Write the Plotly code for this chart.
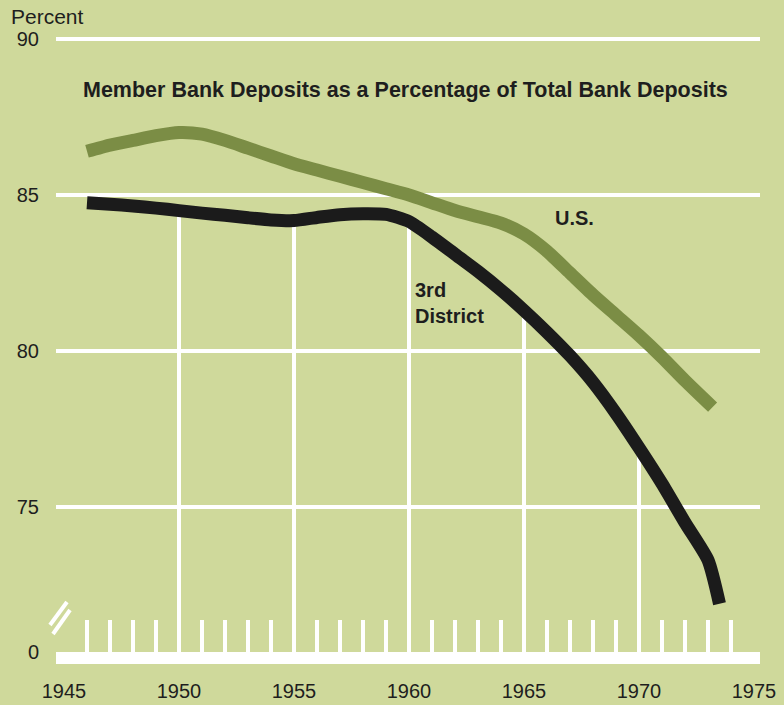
import plotly.graph_objects as go

# ---------------- data ----------------
years = list(range(1946, 1973)) + [1973.2]
us_pct = [86.4, 86.6, 86.75, 86.9, 87.0, 86.95, 86.75, 86.5, 86.25, 86.0,
          85.8, 85.6, 85.4, 85.2, 85.0, 84.75, 84.5, 84.3, 84.1, 83.75,
          83.2, 82.5, 81.8, 81.15, 80.5, 79.8, 79.05, 78.2]

years_3rd = list(range(1946, 1974)) + [1973.5]
third_pct = [84.75, 84.7, 84.65, 84.58, 84.5, 84.42, 84.35, 84.27, 84.2, 84.18,
             84.28, 84.37, 84.4, 84.38, 84.15, 83.65, 83.1, 82.55, 81.95, 81.3,
             80.6, 79.85, 79.0, 78.0, 76.9, 75.75, 74.5, 73.3, 71.9]

label_years = [1945, 1950, 1955, 1960, 1965, 1970, 1975]
minor_years = list(range(1946, 1975))
drop_years = [1950, 1955, 1960, 1965, 1970]
y_ticks = [75, 80, 85, 90]
y_break_value = 70.353  # broken-axis position that carries the "0" label
y_tick_text = ["0", "75", "80", "85", "90"]

title_text = "Member Bank Deposits as a Percentage of Total Bank Deposits"

# ---------------- style ----------------
BG = "#cfd99b"
GREEN = "#7b8d45"
BLACK = "#1b1b1b"
TXT = "#1e1e1e"
FONT = "Liberation Sans, Arial, sans-serif"

W, H = 784, 705
L, R, T, B = 56, 24, 30, 53
PW, PH = W - L - R, H - T - B

def px_x(p):
    return (p - L) / PW

def px_y(p):
    return (H - B - p) / PH

fig = go.Figure()

# drop lines from the 3rd District curve to the baseline
dx, dy = [], []
for yr in drop_years:
    v = third_pct[years_3rd.index(yr)]
    dx += [yr, yr, None]
    dy += [y_break_value, v, None]
fig.add_trace(go.Scatter(x=dx, y=dy, mode="lines",
                         line=dict(color="white", width=4),
                         hoverinfo="skip", showlegend=False))

fig.add_trace(go.Scatter(x=years, y=us_pct, mode="lines", name="U.S.",
                         line=dict(color=GREEN, width=13, shape="spline", smoothing=0.6),
                         showlegend=False))
fig.add_trace(go.Scatter(x=years_3rd, y=third_pct, mode="lines", name="3rd District",
                         line=dict(color=BLACK, width=13, shape="spline", smoothing=0.6),
                         showlegend=False))

fig.update_layout(
    width=W, height=H,
    margin=dict(l=L, r=R, t=T, b=B, pad=0, autoexpand=False),
    paper_bgcolor=BG, plot_bgcolor=BG,
    font=dict(family=FONT, color=TXT, size=20),
    hovermode=False,
)

fig.update_xaxes(
    range=[1944.652, 1975.261], automargin=False,
    tickmode="array", tickvals=label_years,
    ticks="", showgrid=False, zeroline=False,
    showline=True, linecolor="white", linewidth=12,
    tickfont=dict(size=20, color=TXT),
    ticklabelstandoff=10,
    minor=dict(tickmode="array", tickvals=minor_years, ticks="inside",
               ticklen=32, tickwidth=4, tickcolor="white", showgrid=False),
)
fig.update_yaxes(
    range=[y_break_value, 90.288], automargin=False,
    tickmode="array", tickvals=[y_break_value] + y_ticks, ticktext=y_tick_text,
    ticks="", showgrid=True, gridcolor="white", gridwidth=4,
    zeroline=False, showline=False,
    tickfont=dict(size=20, color=TXT),
    ticklabelstandoff=16,
)

# broken-axis marks
for (x0, y0, x1, y1) in [(50, 625, 67, 602), (53, 634, 70, 610)]:
    fig.add_shape(type="line", xref="paper", yref="paper",
                  x0=px_x(x0), y0=px_y(y0), x1=px_x(x1), y1=px_y(y1),
                  line=dict(color="white", width=4))

fig.add_annotation(text="Percent", xref="paper", yref="paper",
                   x=px_x(9), y=px_y(16), xanchor="left", yanchor="middle",
                   showarrow=False, font=dict(size=21, color=TXT))
fig.add_annotation(text=title_text, xref="paper", yref="paper",
                   x=px_x(405), y=px_y(90), xanchor="center", yanchor="middle",
                   showarrow=False, font=dict(size=21.5, color=TXT, weight="bold"))
fig.add_annotation(text="U.S.", x=1966.26, y=84.26, xanchor="left", yanchor="middle",
                   showarrow=False, font=dict(size=20, color=TXT, weight="bold"))
fig.add_annotation(text="3rd<br>District", x=1960.17, y=81.54, xanchor="left",
                   yanchor="middle", align="left",
                   showarrow=False, font=dict(size=20, color=TXT, weight="bold"))

fig.write_html("out.html")
